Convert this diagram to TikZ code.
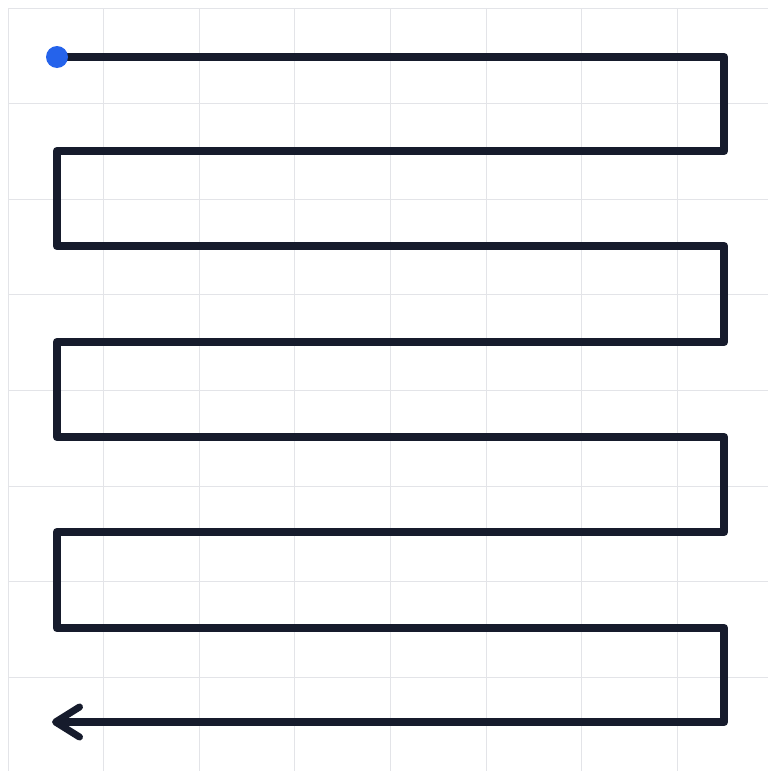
\documentclass[tikz,border=0pt]{standalone}
\usetikzlibrary{arrows.meta}
\definecolor{gridc}{HTML}{E3E4E8}
\definecolor{pathc}{HTML}{161B2C}
\definecolor{dotc}{HTML}{2563EB}
\begin{document}
\begin{tikzpicture}[x=1pt,y=-1pt,
  gridline/.style={draw=gridc,line width=1pt},
  snake/.style={draw=pathc,line width=8.5pt,line join=round,line cap=butt},
  tipstyle/.style={-{Straight Barb[length=24pt,width=30pt,line width=7pt,round]}}]
\useasboundingbox (0,0) rectangle (768,771);
\fill[white] (0,0) rectangle (768,771);
% grid
\foreach \i in {0,...,7} {
  \draw[gridline] ({8+95.6*\i},8) -- ({8+95.6*\i},771);
  \draw[gridline] (8,{8+95.6*\i}) -- (768,{8+95.6*\i});
}
% path points
\coordinate (p0) at (57,57);
\coordinate (p1) at (724,57);
\coordinate (p2) at (724,151);
\coordinate (p3) at (57,151);
\coordinate (p4) at (57,246);
\coordinate (p5) at (724,246);
\coordinate (p6) at (724,342);
\coordinate (p7) at (57,342);
\coordinate (p8) at (57,437);
\coordinate (p9) at (724,437);
\coordinate (p10) at (724,532);
\coordinate (p11) at (57,532);
\coordinate (p12) at (57,628);
\coordinate (p13) at (724,628);
\coordinate (p14) at (724,722);
\coordinate (p15) at (52,722);
\draw[snake,tipstyle] (p0) -- (p1) -- (p2) -- (p3) -- (p4) -- (p5) -- (p6) -- (p7) -- (p8) -- (p9) -- (p10) -- (p11) -- (p12) -- (p13) -- (p14) -- (p15);
\node[circle,fill=dotc,minimum size=22pt,inner sep=0pt] (start) at (p0) {};
\end{tikzpicture}
\end{document}
